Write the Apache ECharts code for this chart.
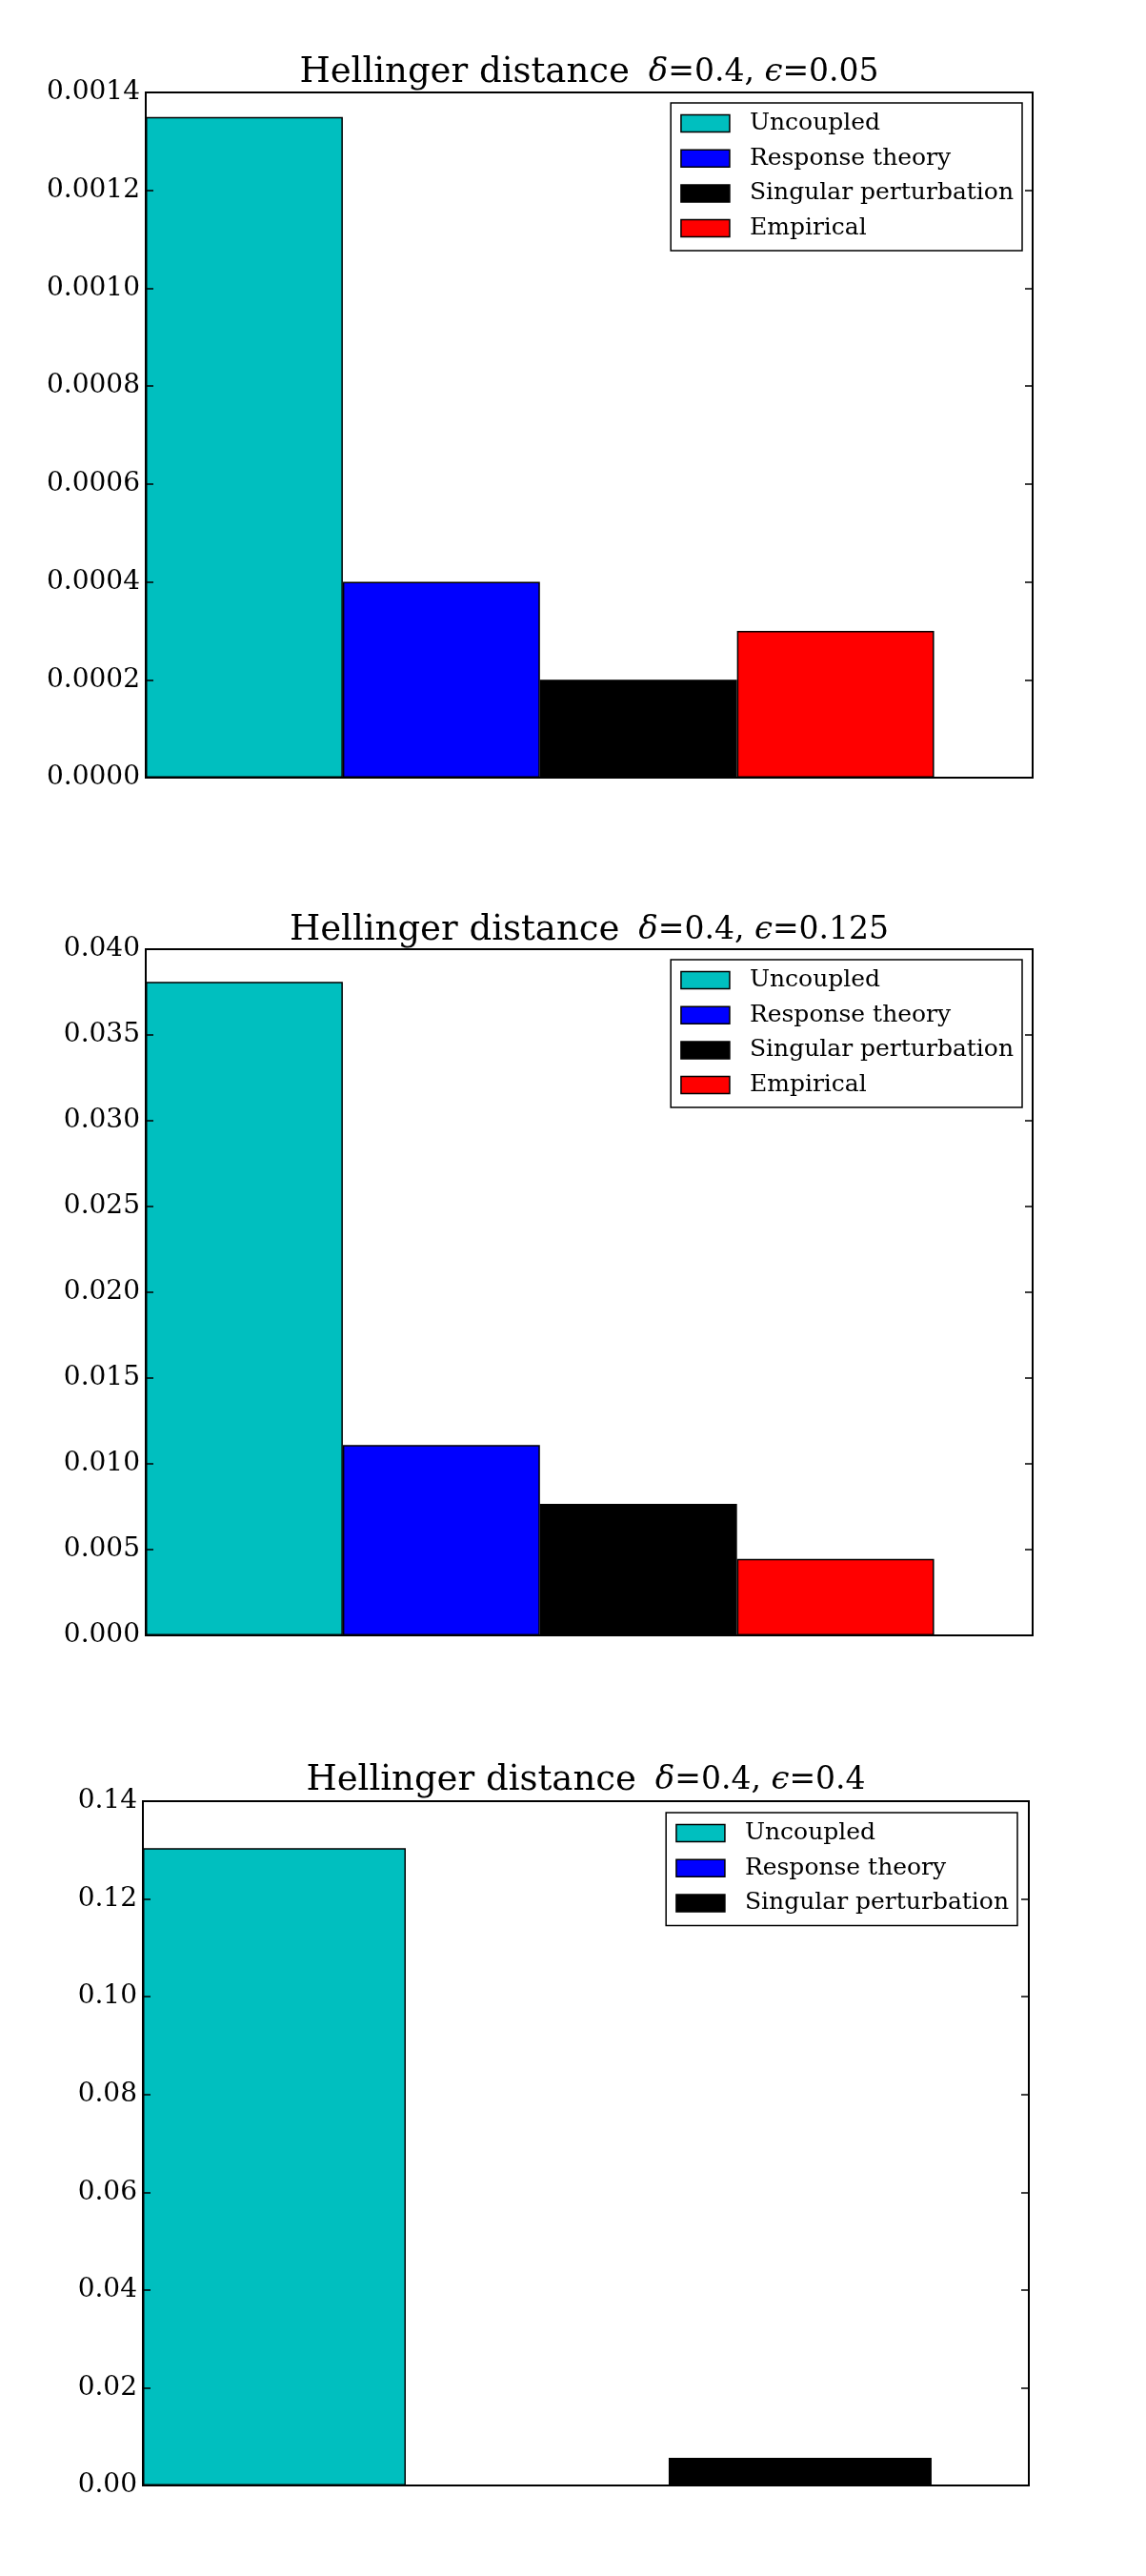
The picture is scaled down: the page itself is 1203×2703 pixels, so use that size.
<!DOCTYPE html>
<html>
<head>
<meta charset="utf-8">
<script src="https://cdn.jsdelivr.net/npm/echarts@6/dist/echarts.min.js"></script>
<style>
html,body{margin:0;padding:0;background:#fff;}
#chart{width:1203px;height:2703px;}
</style>
</head>
<body>
<div id="chart"></div>
<script>
// ---------- data ----------
const seriesNames = ['Uncoupled', 'Response theory', 'Singular perturbation', 'Empirical'];
const xCenters = [0.5, 1.5, 2.5, 3.5];
const delta = '0.4';
const epsilons = ['0.05', '0.125', '0.4'];
const values1 = [0.00135, 0.0004, 0.0002, 0.0003];
const values2 = [0.0381, 0.0111, 0.00767, 0.00446];
const values3 = [0.1304, 0.0001, 0.00565];
const ticks1 = ['0.0000', '0.0002', '0.0004', '0.0006', '0.0008', '0.0010', '0.0012', '0.0014'];
const ticks2 = ['0.000', '0.005', '0.010', '0.015', '0.020', '0.025', '0.030', '0.035', '0.040'];
const ticks3 = ['0.00', '0.02', '0.04', '0.06', '0.08', '0.10', '0.12', '0.14'];
const yIntervals = [0.0002, 0.005, 0.02];
const xMax = [4.5, 4.5, 3.37];

// ---------- layout / style ----------
const colors = ['#00BFBF', '#0000FF', '#000000', '#FF0000'];
const panels = [
  {left: 153, top: 97, width: 931, height: 719, titleTop: 57, legendTop: 108, legendRight: 130},
  {left: 153, top: 996, width: 931, height: 720, titleTop: 957, legendTop: 1007, legendRight: 130},
  {left: 150, top: 1890, width: 930, height: 718, titleTop: 1849, legendTop: 1902, legendRight: 135}
];
const panelValues = [values1, values2, values3];
const panelTicks = [ticks1, ticks2, ticks3];
const FONT = '"DejaVu Serif", serif';

const option = {
  animation: false,
  backgroundColor: '#fff',
  title: [], grid: [], xAxis: [], yAxis: [], legend: [], series: []
};

panels.forEach((p, i) => {
  const vals = panelValues[i];
  const ticks = panelTicks[i];
  const iv = yIntervals[i];
  const yMax = iv * (ticks.length - 1);
  option.title.push({
    text: '{t|Hellinger distance}{g|\u00a0}{m|δ}{n|=' + delta + ',\u00a0}{m|ϵ}{n|=' + epsilons[i] + '}',
    left: p.left + p.width / 2,
    top: p.titleTop,
    textAlign: 'center',
    padding: 0,
    textStyle: {
      fontWeight: 'normal',
      rich: {
        t: {fontFamily: FONT, fontSize: 37, fontWeight: 'normal', color: '#000', lineHeight: 38},
        g: {fontFamily: FONT, fontSize: 36, fontWeight: 'normal', color: '#000', lineHeight: 38, width: 20},
        m: {fontFamily: FONT, fontSize: 34, fontWeight: 'normal', fontStyle: 'italic', color: '#000', lineHeight: 38},
        n: {fontFamily: FONT, fontSize: 33, fontWeight: 'normal', color: '#000', lineHeight: 38}
      }
    }
  });
  option.grid.push({
    left: p.left, top: p.top, width: p.width, height: p.height,
    show: true, borderColor: '#000', borderWidth: 2, backgroundColor: 'transparent'
  });
  option.xAxis.push({
    type: 'value', gridIndex: i, min: 0, max: xMax[i], z: 10,
    axisLine: {show: true, onZero: false, lineStyle: {color: '#000', width: 2}},
    axisTick: {show: false}, axisLabel: {show: false}, splitLine: {show: false}
  });
  const fmt = (v) => ticks[Math.round(v / iv)] || '';
  option.yAxis.push({
    type: 'value', gridIndex: i, min: 0, max: yMax, interval: iv, position: 'left', z: 10,
    axisLine: {show: true, lineStyle: {color: '#000', width: 2}},
    axisTick: {show: true, inside: true, length: 8, lineStyle: {color: '#000', width: 1.5}},
    axisLabel: {show: true, formatter: fmt, fontFamily: FONT, fontSize: 28, color: '#000', margin: 6},
    splitLine: {show: false}
  });
  option.yAxis.push({
    type: 'value', gridIndex: i, min: 0, max: yMax, interval: iv, position: 'right', z: 10,
    axisLine: {show: true, lineStyle: {color: '#000', width: 2}},
    axisTick: {show: true, inside: true, length: 8, lineStyle: {color: '#000', width: 1.5}},
    axisLabel: {show: false}, splitLine: {show: false}
  });
  const names = seriesNames.slice(0, vals.length);
  option.legend.push({
    orient: 'vertical',
    right: p.legendRight, top: p.legendTop,
    data: names,
    icon: 'rect',
    itemWidth: 51, itemHeight: 18, itemGap: 11.7,
    padding: [9, 9, 11, 10],
    borderColor: '#000', borderWidth: 1.5, backgroundColor: '#fff',
    borderRadius: 0,
    selectedMode: false,
    itemStyle: {borderColor: '#000', borderWidth: 1.5},
    textStyle: {fontFamily: FONT, fontSize: 25, color: '#000', lineHeight: 25, padding: [0, 0, 0, 16]}
  });
  const bw = p.width / xMax[i];
  vals.forEach((v, k) => {
    option.series.push({
      type: 'bar', name: names[k],
      xAxisIndex: i, yAxisIndex: 2 * i,
      data: [[xCenters[k], v]],
      barWidth: bw, barGap: '-100%',
      itemStyle: {color: colors[k], borderColor: '#000', borderWidth: 1.5},
      emphasis: {disabled: true}
    });
  });
});

const chart = echarts.init(document.getElementById('chart'), null, {renderer: 'canvas'});
chart.setOption(option);
</script>
</body>
</html>
